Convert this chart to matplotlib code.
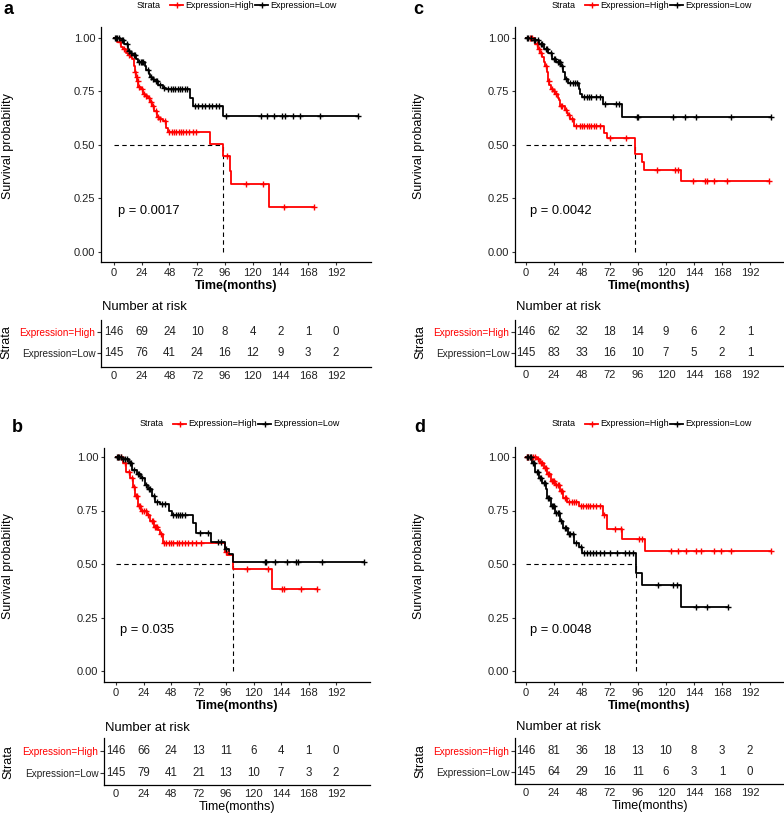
import matplotlib
matplotlib.use("Agg")
import matplotlib.pyplot as plt
from matplotlib.lines import Line2D

plt.rcParams['font.family'] = ['Liberation Sans', 'DejaVu Sans']

W, H = 784, 815
RED = '#FF0000'
BLACK = '#000000'

# ---------------- data ----------------
strata = ['Expression=High', 'Expression=Low']
risk_times = [0, 24, 48, 72, 96, 120, 144, 168, 192]
pvalues = {'a': 'p = 0.0017', 'c': 'p = 0.0042', 'b': 'p = 0.035', 'd': 'p = 0.0048'}

# panel a
a_hi_t = [3, 6, 8, 10, 12, 14, 16, 17, 18, 19, 20, 21, 23, 25, 27, 29, 31, 33, 35, 37, 39, 42, 45, 47, 83, 94, 100, 101, 134]
a_hi_s = [0.98, 0.96, 0.95, 0.93, 0.92, 0.91, 0.90, 0.87, 0.84, 0.82, 0.80, 0.77, 0.76, 0.74, 0.73, 0.72, 0.70, 0.68,
          0.66, 0.63, 0.62, 0.61, 0.58, 0.56, 0.505, 0.447, 0.38, 0.32, 0.21]
a_hi_c = [5, 9, 13, 18.5, 19.5, 20.5, 22, 24, 26, 28, 30, 32, 34, 36, 38, 40, 44, 48, 50, 52, 54, 56, 58, 60, 62, 65,
          68, 71, 98, 114, 129, 147, 173]
a_lo_t = [5, 9, 12, 14, 16, 19, 21, 27, 28, 30, 31, 33, 35, 38, 42, 45, 66, 68, 94]
a_lo_s = [0.99, 0.97, 0.94, 0.93, 0.92, 0.90, 0.89, 0.87, 0.85, 0.83, 0.82, 0.81, 0.80, 0.78, 0.766, 0.76, 0.72, 0.68, 0.635]
a_lo_c = [1, 2, 3, 4, 7, 8, 11, 13, 15, 17, 18, 22, 23, 24, 25, 29, 32, 34, 36, 37, 40, 43, 47, 49, 51, 53, 55, 57, 59,
          61, 63, 70, 73, 76, 79, 82, 85, 88, 91, 97, 127, 132, 138, 145, 148, 155, 161, 178, 211]
a_risk_hi = [146, 69, 24, 10, 8, 4, 2, 1, 0]
a_risk_lo = [145, 76, 41, 24, 16, 12, 9, 3, 2]

# panel c
c_hi_t = [8, 10, 12, 14, 15, 16, 18, 19, 20, 21, 23, 25, 27, 28, 29, 33, 35, 36, 38, 41, 67, 69, 93, 99, 101, 133]
c_hi_s = [0.97, 0.95, 0.93, 0.91, 0.89, 0.87, 0.84, 0.80, 0.78, 0.76, 0.75, 0.74, 0.72, 0.71, 0.68, 0.665, 0.65, 0.64,
          0.62, 0.59, 0.555, 0.535, 0.46, 0.42, 0.385, 0.33]
c_hi_c = [3, 5, 9, 11, 13, 17, 19.5, 22, 24, 26, 30, 31, 34, 37, 39, 43, 46, 48, 50, 52, 54, 56, 58, 60, 63, 72, 86,
          112, 128, 130, 143, 153, 155, 161, 172, 208]
c_lo_t = [5, 11, 15, 19, 22, 26, 30, 32, 33, 36, 45, 46, 48, 66, 82]
c_lo_s = [0.99, 0.97, 0.95, 0.93, 0.90, 0.89, 0.87, 0.84, 0.81, 0.79, 0.76, 0.74, 0.725, 0.69, 0.63]
c_lo_c = [1, 2, 4, 7, 8, 10, 13, 14, 17, 18, 21, 24, 25, 27, 28, 29, 31, 34, 38, 40, 42, 44, 50, 52, 54, 56, 60, 63,
          68, 77, 80, 95, 96, 126, 136, 146, 176, 210]
c_risk_hi = [146, 62, 32, 18, 14, 9, 6, 2, 1]
c_risk_lo = [145, 83, 33, 16, 10, 7, 5, 2, 1]

# panel b
b_hi_t = [6, 9, 12, 15, 17, 19, 22, 27, 30, 33, 37, 38, 41, 95, 97, 102, 136]
b_hi_s = [0.97, 0.93, 0.90, 0.86, 0.82, 0.77, 0.75, 0.73, 0.70, 0.675, 0.66, 0.64, 0.60, 0.555, 0.54, 0.475, 0.385]
b_hi_c = [2, 4, 8, 11, 14, 16, 17.5, 18, 20, 21, 23, 24, 26, 28, 31, 32, 34, 35, 36, 39, 42, 44, 46, 48, 50, 53, 55,
          58, 60, 63, 66, 70, 74, 96, 114, 133, 145, 147, 161, 175]
b_lo_t = [5, 11, 14, 18, 22, 25, 28, 31, 34, 38, 46, 49, 67, 70, 83, 95, 99, 102]
b_lo_s = [0.99, 0.97, 0.94, 0.92, 0.90, 0.87, 0.85, 0.82, 0.79, 0.78, 0.75, 0.73, 0.69, 0.645, 0.605, 0.57, 0.545, 0.51]
b_lo_c = [1, 2, 3, 4, 6, 8, 10, 12, 13, 16, 19, 20, 23, 26, 29, 30, 33, 36, 40, 43, 50, 52, 54, 56, 58, 60, 73, 80,
          89, 92, 96, 130, 131, 139, 149, 157, 159, 180, 216]
b_risk_hi = [146, 66, 24, 13, 11, 6, 4, 1, 0]
b_risk_lo = [145, 79, 41, 21, 13, 10, 7, 3, 2]

# panel d
d_hi_t = [9, 12, 15, 18, 21, 25, 29, 32, 35, 45, 66, 69, 82, 102]
d_hi_s = [0.99, 0.97, 0.95, 0.92, 0.89, 0.87, 0.84, 0.81, 0.79, 0.77, 0.73, 0.665, 0.615, 0.56]
d_hi_c = [1, 2, 4, 6, 8, 10, 13, 14, 16, 17, 19, 20, 22, 23, 24, 26, 27, 28, 30, 31, 33, 34, 37, 39, 41, 43, 47, 49,
          51, 53, 55, 57, 60, 63, 67, 76, 81, 97, 99, 124, 130, 137, 146, 150, 161, 167, 176, 210]
d_lo_t = [5, 8, 11, 14, 17, 18, 21, 25, 29, 32, 36, 41, 45, 48, 94, 99, 133]
d_lo_s = [0.97, 0.93, 0.90, 0.88, 0.85, 0.81, 0.77, 0.74, 0.70, 0.67, 0.64, 0.60, 0.58, 0.55, 0.46, 0.40, 0.30]
d_lo_c = [1, 2, 3, 4, 6, 7, 9, 10, 12, 13, 15, 16, 19, 20, 22, 23, 24, 26, 27, 28, 30, 33, 34, 37, 38, 40, 43, 47,
          50, 52, 55, 57, 60, 63, 67, 72, 78, 85, 88, 92, 113, 126, 129, 146, 155, 173]
d_risk_hi = [146, 81, 36, 18, 13, 10, 8, 3, 2]
d_risk_lo = [145, 64, 29, 16, 11, 6, 3, 1, 0]

data = {
    'a': ((a_hi_t, a_hi_s, a_hi_c), (a_lo_t, a_lo_s, a_lo_c), a_risk_hi, a_risk_lo),
    'c': ((c_hi_t, c_hi_s, c_hi_c), (c_lo_t, c_lo_s, c_lo_c), c_risk_hi, c_risk_lo),
    'b': ((b_hi_t, b_hi_s, b_hi_c), (b_lo_t, b_lo_s, b_lo_c), b_risk_hi, b_risk_lo),
    'd': ((d_hi_t, d_hi_s, d_hi_c), (d_lo_t, d_lo_s, d_lo_c), d_risk_hi, d_risk_lo),
}

# ---------------- layout (pixels) ----------------
layout = {
    'a': dict(x0=114, ppm=1.156, left=101, top=27, bottom=262, y1=38, y0=252,
              rtop=320, rbot=367, rhi=332, rlo=353, letter=(3, 9), leg=(137, 5), ylab=(8, 146),
              strata_x=6, nar_y=307, risk_xlabel=False),
    'c': dict(x0=526, ppm=1.1667, left=515, top=27, bottom=262, y1=38, y0=252,
              rtop=320, rbot=366, rhi=332, rlo=353, letter=(413, 9), leg=(552, 5), ylab=(419, 146),
              strata_x=420, nar_y=307, risk_xlabel=False),
    'b': dict(x0=116, ppm=1.146, left=104, top=448, bottom=682, y1=457, y0=671,
              rtop=738, rbot=785, rhi=751, rlo=773, letter=(12, 427), leg=(140, 424), ylab=(8, 566),
              strata_x=8, nar_y=728, risk_xlabel=True),
    'd': dict(x0=526, ppm=1.1667, left=515, top=447, bottom=682, y1=457, y0=671,
              rtop=738, rbot=784, rhi=751, rlo=772, letter=(414, 427), leg=(552, 424), ylab=(419, 566),
              strata_x=420, nar_y=727, risk_xlabel=True),
}
XMAX = 222

fig = plt.figure(figsize=(W / 100, H / 100), dpi=100)


def fx(px):
    return px / W


def fy(py):
    return 1 - py / H


def add_ax(l, t, r, b):
    return fig.add_axes([fx(l), fy(b), (r - l) / W, (b - t) / H])


def style(ax):
    for s in ['top', 'right']:
        ax.spines[s].set_visible(False)
    for s in ['left', 'bottom']:
        ax.spines[s].set_linewidth(0.9)
        ax.spines[s].set_color('black')
    ax.tick_params(axis='both', length=2.5, width=0.8, color='#333333', labelsize=8,
                   labelcolor='#222222', pad=1.5)
    ax.set_facecolor('none')


def surv_at(times, survs, t):
    s = 1.0
    for ti, si in zip(times, survs):
        if ti <= t:
            s = si
    return s


def draw_curve(ax, times, survs, cens, color):
    end = max(cens + times)
    xs = [0] + times + [end]
    ys = [1.0] + survs + [survs[-1]]
    ax.step(xs, ys, where='post', color=color, lw=1.3, zorder=3)
    cy = [surv_at(times, survs, c) for c in cens]
    ax.plot(cens, cy, linestyle='none', marker='+', ms=5, mew=1.0, color=color, zorder=4)


for key, L in layout.items():
    hi, lo, rhi, rlo = data[key]
    xl = -(L['x0'] - L['left']) / L['ppm']
    right = min(L['x0'] + XMAX * L['ppm'], W)
    xr = (right - L['x0']) / L['ppm']
    ax = add_ax(L['left'], L['top'], right, L['bottom'])
    style(ax)
    upp = L['y0'] - L['y1']
    ax.set_ylim(-(L['bottom'] - L['y0']) / upp, 1 + (L['y1'] - L['top']) / upp)
    ax.set_xlim(xl, xr)
    ax.set_xticks(risk_times)
    ax.set_yticks([0, 0.25, 0.5, 0.75, 1.0])
    ax.set_yticklabels(['0.00', '0.25', '0.50', '0.75', '1.00'])

    draw_curve(ax, *hi, RED)
    draw_curve(ax, *lo, BLACK)

    # median line
    meds = []
    for t, s, c in (hi, lo):
        for ti, si in zip(t, s):
            if si < 0.5:
                meds.append(ti)
                break
    for m in meds:
        ax.plot([0, m], [0.5, 0.5], color='black', lw=0.8, dashes=(4, 3), zorder=2)
        ax.plot([m, m], [0, 0.5], color='black', lw=0.8, dashes=(4, 3), zorder=2)

    # p value
    ax.text(3.5, 0.19, pvalues[key], fontsize=9.3, ha='left', va='center', color='black')

    ax.set_xlabel('Time(months)', fontsize=9, fontweight='bold', labelpad=2)
    fig.text(fx(L['ylab'][0]), fy(L['ylab'][1]), 'Survival probability', rotation=90,
             fontsize=9, ha='center', va='center', color='black')

    # panel letter
    fig.text(fx(L['letter'][0]), fy(L['letter'][1]), key, fontsize=13, fontweight='bold',
             ha='left', va='center')

    # legend
    lx, ly = L['leg']
    fig.text(fx(lx), fy(ly), 'Strata', fontsize=6.5, ha='left', va='center')
    for off, col, lab in [(33, RED, strata[0]), (118, BLACK, strata[1])]:
        x1, x2 = lx + off, lx + off + 13
        fig.add_artist(Line2D([fx(x1), fx(x2)], [fy(ly), fy(ly)], color=col, lw=1.3,
                              transform=fig.transFigure))
        fig.add_artist(Line2D([fx((x1 + x2) / 2)], [fy(ly)], color=col, marker='+', ms=5, mew=1.0,
                              transform=fig.transFigure))
        fig.text(fx(x2 + 2), fy(ly), lab, fontsize=6.5, ha='left', va='center')

    # risk table
    rax = add_ax(L['left'], L['rtop'], right, L['rbot'])
    style(rax)
    rax.set_xlim(xl, xr)
    rowu = L['rlo'] - L['rhi']
    rax.set_ylim(-(L['rbot'] - L['rlo']) / rowu, 1 + (L['rhi'] - L['rtop']) / rowu)
    rax.set_xticks(risk_times)
    rax.tick_params(axis='x', length=0, pad=3)
    rax.set_yticks([1, 0])
    rax.set_yticklabels(strata, fontsize=7.2)
    rax.tick_params(axis='y', length=3, pad=1)
    rax.get_yticklabels()[0].set_color(RED)
    rax.get_yticklabels()[1].set_color('#222222')
    for t, nh, nl in zip(risk_times, rhi, rlo):
        rax.text(t, 1, str(nh), ha='center', va='center', fontsize=8.3, color='#222222')
        rax.text(t, 0, str(nl), ha='center', va='center', fontsize=8.3, color='#222222')
    fig.text(fx(L['left'] + 1), fy(L['nar_y']), 'Number at risk', fontsize=9.4, ha='left', va='center')
    fig.text(fx(L['strata_x']), fy((L['rhi'] + L['rlo']) / 2), 'Strata', rotation=90, fontsize=9,
             ha='center', va='center')
    if L['risk_xlabel']:
        rax.set_xlabel('Time(months)', fontsize=9, labelpad=1)

fig.savefig('out.png', dpi=100)
